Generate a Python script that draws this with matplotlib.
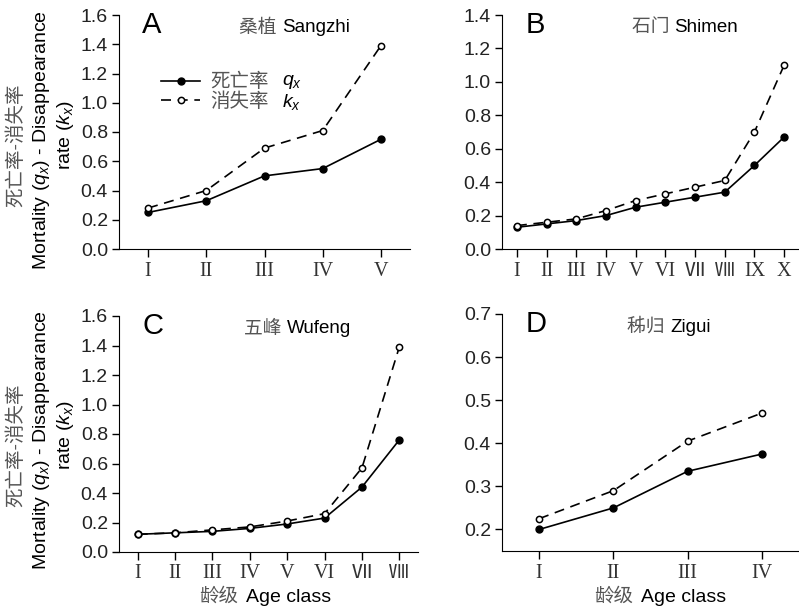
import matplotlib
matplotlib.use('Agg')
import matplotlib.pyplot as plt

plt.rcParams['font.family'] = ['Liberation Sans', 'Noto Sans CJK SC']
plt.rcParams['mathtext.fontset'] = 'custom'
plt.rcParams['mathtext.it'] = 'Liberation Sans:italic'
plt.rcParams['mathtext.rm'] = 'Liberation Sans'

roman = ['I', 'II', 'III', 'IV', 'V', 'VI', 'Ⅶ', 'Ⅷ', 'IX', 'X']

# A Sangzhi
qa = [0.25, 0.33, 0.50, 0.55, 0.75]
ka = [0.28, 0.40, 0.69, 0.81, 1.39]
# B Shimen
qb = [0.13, 0.15, 0.17, 0.20, 0.25, 0.28, 0.31, 0.34, 0.50, 0.67]
kb = [0.14, 0.16, 0.18, 0.23, 0.29, 0.33, 0.37, 0.41, 0.70, 1.10]
# C Wufeng
qc = [0.12, 0.13, 0.14, 0.16, 0.19, 0.23, 0.44, 0.76]
kc = [0.12, 0.13, 0.15, 0.17, 0.21, 0.26, 0.57, 1.39]
# D Zigui
qd = [0.20, 0.25, 0.335, 0.375]
kd = [0.225, 0.29, 0.405, 0.47]

W, H = 799, 612
fig = plt.figure(figsize=(W / 100, H / 100), dpi=100)

def box(x0, x1, ytop, ybot):
    return [x0 / W, 1 - ybot / H, (x1 - x0) / W, (ybot - ytop) / H]

panels = [
    ('A', '桑植', 'Sangzhi', qa, ka, box(119, 410, 15, 249), (0, 1.6), [0, 0.2, 0.4, 0.6, 0.8, 1.0, 1.2, 1.4, 1.6], 0.56),
    ('B', '石门', 'Shimen', qb, kb, box(502, 799, 15, 249), (0, 1.4), [0, 0.2, 0.4, 0.6, 0.8, 1.0, 1.2, 1.4], 0.58),
    ('C', '五峰', 'Wufeng', qc, kc, box(119, 418, 316, 552), (0, 1.6), [0, 0.2, 0.4, 0.6, 0.8, 1.0, 1.2, 1.4, 1.6], 0.56),
    ('D', '秭归', 'Zigui', qd, kd, box(502, 799, 314, 551), (0.15, 0.7), [0.2, 0.3, 0.4, 0.5, 0.6, 0.7], 0.566),
]

gray = '#555555'
fs = 14
axes = []
for letter, cn, en, q, k, pos, ylim, yt, tx in panels:
    ax = fig.add_axes(pos)
    x = list(range(1, len(q) + 1))
    ax.plot(x, q, '-', color='black', lw=1.2, marker='o', ms=5,
            mfc='black', mec='black', label='死亡率')
    ax.plot(x, k, '--', color='black', lw=1.2, dashes=(6, 4), marker='o', ms=4.5,
            mfc='white', mec='black', mew=1.1, label='消失率')
    ax.set_xlim(0.5, len(q) + 0.5)
    ax.set_ylim(*ylim)
    ax.set_yticks(yt)
    ax.set_yticklabels([f'{v:.1f}' for v in yt], fontsize=fs, color='#222222')
    ax.set_xticks(x)
    ax.set_xticklabels(roman[:len(q)], fontsize=14.5, family=['Liberation Serif', 'Noto Sans CJK SC'], color='#333333')
    ax.spines['top'].set_visible(False)
    ax.spines['right'].set_visible(False)
    ax.tick_params(direction='out', length=5, width=1, pad=3)
    ax.tick_params(axis='x', length=6)
    ax.text(0.08, 0.925, letter, transform=ax.transAxes, fontsize=21, va='baseline', ha='left')
    ax.text(tx, 0.945, cn + ' ', transform=ax.transAxes, fontsize=13.5, va='center', ha='right', color=gray)
    ax.text(tx, 0.945, en, transform=ax.transAxes, fontsize=13.5, va='center', ha='left')
    axes.append(ax)

leg = axes[0].legend(loc='upper left', bbox_to_anchor=(0.145, 0.752), frameon=False, fontsize=fs,
                     handlelength=2.0, handletextpad=0.5, labelspacing=0.05, borderpad=0,
                     borderaxespad=0)

# y labels
for yc in (140, 440):
    fig.text(16 / W, 1 - (yc + 5) / H, '死亡率-消失率', rotation=90, ha='center', va='center',
             fontsize=fs, color=gray)
    fig.text(42 / W, 1 - yc / H, 'Mortality ($q_x$) - Disappearance', rotation=90,
             ha='center', va='center', fontsize=fs)
    fig.text(66 / W, 1 - (yc - 5) / H, 'rate ($k_x$)', rotation=90, ha='center', va='center', fontsize=fs)

# x labels
for xc in (238, 633):
    fig.text(xc / W, 1 - 597 / H, '龄级', ha='right', va='center', fontsize=fs, color=gray)
    fig.text((xc + 8) / W, 1 - 597 / H, 'Age class', ha='left', va='center', fontsize=fs)

# math symbols after the legend texts
fig.canvas.draw()
inv = fig.transFigure.inverted()
for t, sym in zip(leg.get_texts(), ['$q_x$', '$k_x$']):
    t.set_color(gray)
    bb = t.get_window_extent()
    fx, fy = inv.transform((bb.x1 + 14, (bb.y0 + bb.y1) / 2))
    fig.text(fx, fy, sym, ha='left', va='center', fontsize=fs)

plt.savefig('out.png', dpi=100)
